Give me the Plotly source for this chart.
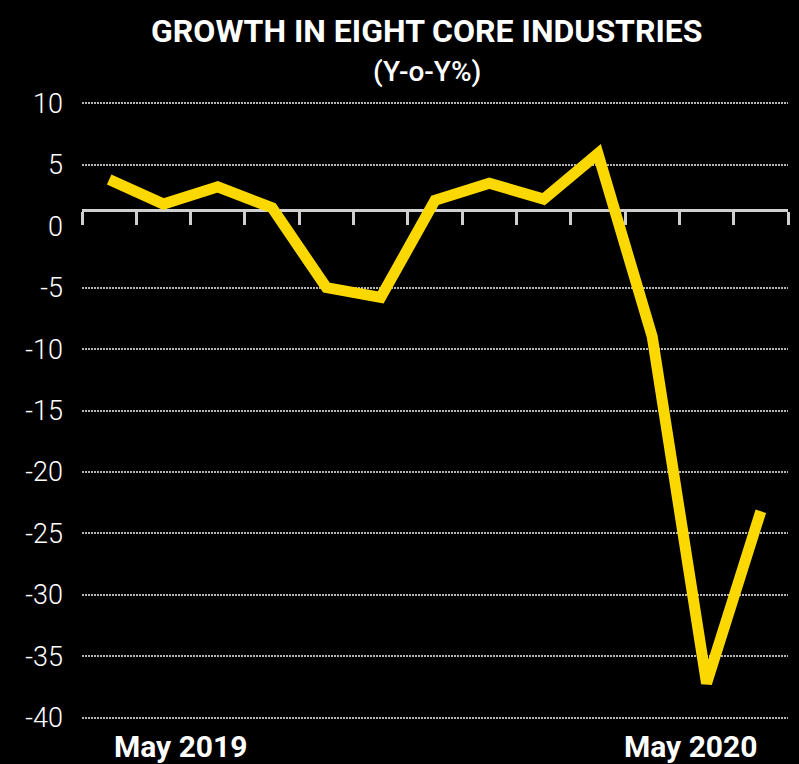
import plotly.graph_objects as go

months = ["May 2019", "Jun 2019", "Jul 2019", "Aug 2019", "Sep 2019", "Oct 2019",
          "Nov 2019", "Dec 2019", "Jan 2020", "Feb 2020", "Mar 2020", "Apr 2020", "May 2020"]
growth = [3.8, 1.8, 3.2, 1.5, -5.0, -5.8, 2.1, 3.5, 2.2, 5.9, -9.0, -37.2, -23.2]
y_ticks = [10, 5, 0, -5, -10, -15, -20, -25, -30, -35, -40]
x_labels = ["May 2019", "May 2020"]
x_label_pos = [1.32, 10.72]

title = "GROWTH IN EIGHT CORE INDUSTRIES"
subtitle = "(Y-o-Y%)"

x_idx = list(range(len(months)))
y_range = [-41, 11]
axis_line_value = 1.3
pos = (axis_line_value - y_range[0]) / (y_range[1] - y_range[0])

fig = go.Figure()
fig.add_trace(go.Scatter(
    x=x_idx, y=growth, mode="lines",
    line=dict(color="#FAD800", width=11),
    text=months, hoverinfo="text+y", showlegend=False,
))

fig.update_layout(
    width=799, height=764,
    paper_bgcolor="black", plot_bgcolor="black",
    margin=dict(l=82, r=11, t=91, b=34),
    xaxis=dict(
        range=[-0.5, len(months) - 0.5],
        tickvals=[i - 0.5 for i in range(len(months) + 1)],
        showticklabels=False, showgrid=False, zeroline=False,
        showline=True, linecolor="#cfcfcf", linewidth=3,
        ticks="outside", ticklen=13, tickwidth=3, tickcolor="#cfcfcf",
        anchor="free", position=pos, layer="below traces",
    ),
    yaxis=dict(
        range=y_range, tickvals=y_ticks, ticktext=[str(v) for v in y_ticks],
        showgrid=False, zeroline=False, showline=False,
        tickfont=dict(family="Roboto", size=27, color="white", weight=300),
        ticks="", ticklabelstandoff=18,
    ),
    yaxis2=dict(
        range=y_range, overlaying="y", side="left",
        tickvals=[v for v in y_ticks if v != 0],
        showgrid=True, gridcolor="#b5b5b5", gridwidth=2, griddash="2px,1px",
        showticklabels=False, zeroline=False, showline=False, ticks="",
        layer="below traces",
    ),
    font=dict(family="Roboto", color="white"),
)

# invisible helper trace so that the grid axis is drawn
fig.add_trace(go.Scatter(x=[x_idx[0]], y=[growth[0]], yaxis="y2", mode="markers",
                         marker=dict(opacity=0), hoverinfo="skip", showlegend=False))

fig.add_annotation(text=title, xref="paper", yref="paper", x=0.489, y=1.0, yshift=81,
                   showarrow=False, font=dict(family="Roboto", size=32, color="white", weight=700))
fig.add_annotation(text=subtitle, xref="paper", yref="paper", x=0.489, y=1.0, yshift=38,
                   showarrow=False, font=dict(family="Roboto", size=28, color="white", weight=500))
for lab, xp in zip(x_labels, x_label_pos):
    fig.add_annotation(text=lab, xref="x", yref="paper", x=xp, y=0, yshift=-36,
                       showarrow=False, font=dict(family="Roboto", size=30, color="white", weight=700))

fig.write_html("out.html")
